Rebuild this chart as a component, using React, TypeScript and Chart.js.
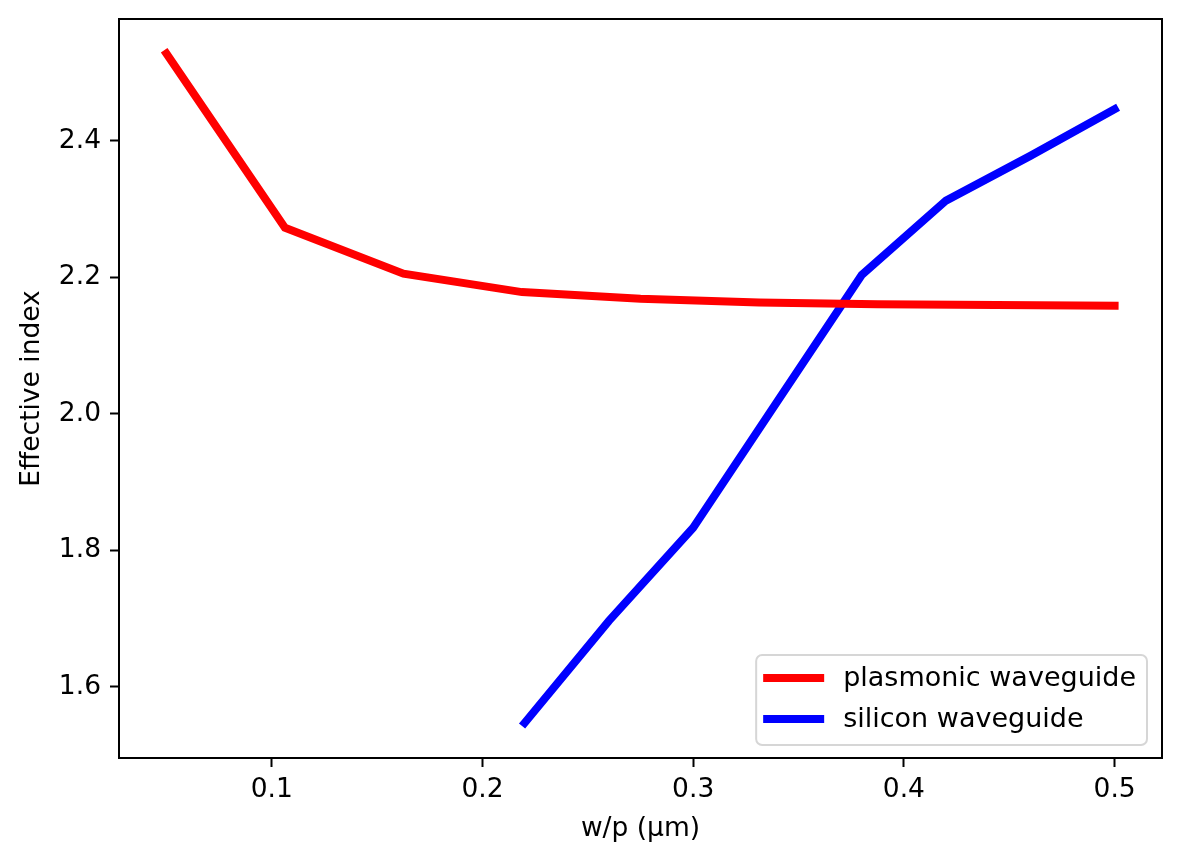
import { useEffect, useRef } from "react";
import { Chart, registerables, Plugin } from "chart.js";

Chart.register(...registerables);

// values
const plasmonicX = [0.05, 0.10625, 0.1625, 0.21875, 0.275, 0.33125, 0.3875, 0.44375, 0.5];
const plasmonicY = [2.528, 2.2726, 2.2054, 2.1784, 2.1685, 2.163, 2.1605, 2.1595, 2.1585];
const siliconX = [0.22, 0.26, 0.3, 0.34, 0.38, 0.42, 0.46, 0.5];
const siliconY = [1.547, 1.6967, 1.8332, 2.0185, 2.2035, 2.3125, 2.378, 2.4465];
const xTicks = [0.1, 0.2, 0.3, 0.4, 0.5];
const yTicks = [1.6, 1.8, 2.0, 2.2, 2.4];

const FONT = "'DejaVu Sans', sans-serif";
const FS = 26.5;
const LEGEND_FS = 27;

// matplotlib-like box around the axes plus a legend in the lower right
const frameAndLegend: Plugin<"line"> = {
  id: "frameAndLegend",
  afterDraw(chart) {
    const { ctx, chartArea: a } = chart;
    ctx.save();
    ctx.strokeStyle = "#000";
    ctx.lineWidth = 2;
    ctx.strokeRect(a.left, a.top, a.right - a.left, a.bottom - a.top);

    ctx.font = `${LEGEND_FS}px ${FONT}`;
    const sets = chart.data.datasets;
    const textW = Math.max(...sets.map((d) => ctx.measureText(String(d.label)).width));
    const padL = 7, handle = 61, gap = 19, padR = 11;
    const w = padL + handle + gap + textW + padR;
    const h = 90;
    const right = a.right - 15;
    const bottom = a.bottom - 13;
    const left = right - w;
    const top = bottom - h;

    ctx.beginPath();
    ctx.roundRect(left, top, w, h, 6);
    ctx.fillStyle = "rgba(255,255,255,0.8)";
    ctx.fill();
    ctx.strokeStyle = "rgba(204,204,204,0.8)";
    ctx.lineWidth = 2;
    ctx.stroke();

    sets.forEach((d, i) => {
      const cy = top + 23 + i * 41;
      ctx.beginPath();
      ctx.strokeStyle = d.borderColor as string;
      ctx.lineWidth = 8;
      ctx.lineCap = "butt";
      ctx.moveTo(left + padL, cy);
      ctx.lineTo(left + padL + handle, cy);
      ctx.stroke();
      ctx.fillStyle = "#000";
      ctx.textAlign = "left";
      ctx.textBaseline = "middle";
      ctx.fillText(String(d.label), left + padL + handle + gap, cy + 1);
    });
    ctx.restore();
  },
};

export default function App() {
  const canvasRef = useRef<HTMLCanvasElement | null>(null);
  const chartRef = useRef<Chart | null>(null);

  useEffect(() => {
    document.body.style.margin = "0";
    if (!canvasRef.current) return;
    if (chartRef.current) chartRef.current.destroy();

    chartRef.current = new Chart(canvasRef.current, {
      type: "line",
      data: {
        datasets: [
          {
            label: "plasmonic waveguide",
            data: plasmonicX.map((x, i) => ({ x, y: plasmonicY[i] })),
            borderColor: "#ff0000",
            borderWidth: 8,
            borderCapStyle: "square",
            pointRadius: 0,
            tension: 0,
          },
          {
            label: "silicon waveguide",
            data: siliconX.map((x, i) => ({ x, y: siliconY[i] })),
            borderColor: "#0000ff",
            borderWidth: 8,
            borderCapStyle: "square",
            pointRadius: 0,
            tension: 0,
          },
        ],
      },
      options: {
        responsive: false,
        animation: false,
        devicePixelRatio: 1,
        layout: { padding: { top: 19, right: 17, left: 0, bottom: 0 } },
        plugins: {
          legend: { display: false },
          tooltip: { enabled: false },
        },
        scales: {
          x: {
            type: "linear",
            min: 0.0275,
            max: 0.5225,
            afterBuildTicks: (s) => {
              s.ticks = xTicks.map((v) => ({ value: v }));
            },
            afterFit: (s) => {
              s.height = 103;
              s.paddingLeft = 0;
              s.paddingRight = 0;
            },
            grid: { drawOnChartArea: false, drawTicks: true, tickLength: 9, tickColor: "#000", tickWidth: 2 },
            border: { display: false },
            ticks: {
              color: "#000",
              font: { family: FONT, size: FS },
              padding: 7,
              maxRotation: 0,
              callback: (v) => Number(v).toFixed(1),
            },
            title: {
              display: true,
              text: "w/p (µm)",
              color: "#000",
              font: { family: FONT, size: FS },
              padding: { top: 0, bottom: 16 },
            },
          },
          y: {
            type: "linear",
            min: 1.4957,
            max: 2.5786,
            afterBuildTicks: (s) => {
              s.ticks = yTicks.map((v) => ({ value: v }));
            },
            afterFit: (s) => {
              s.width = 119;
              s.paddingTop = 0;
              s.paddingBottom = 0;
            },
            grid: { drawOnChartArea: false, drawTicks: true, tickLength: 9, tickColor: "#000", tickWidth: 2 },
            border: { display: false },
            ticks: {
              color: "#000",
              font: { family: FONT, size: FS },
              padding: 9,
              callback: (v) => Number(v).toFixed(1),
            },
            title: {
              display: true,
              text: "Effective index",
              color: "#000",
              font: { family: FONT, size: FS },
              padding: { top: 16, bottom: 0 },
            },
          },
        },
      },
      plugins: [frameAndLegend],
    });

    return () => {
      if (chartRef.current) {
        chartRef.current.destroy();
        chartRef.current = null;
      }
    };
  }, []);

  return (
    <div style={{ width: 1179, height: 861, background: "#fff" }}>
      <canvas ref={canvasRef} width={1179} height={861} />
    </div>
  );
}
